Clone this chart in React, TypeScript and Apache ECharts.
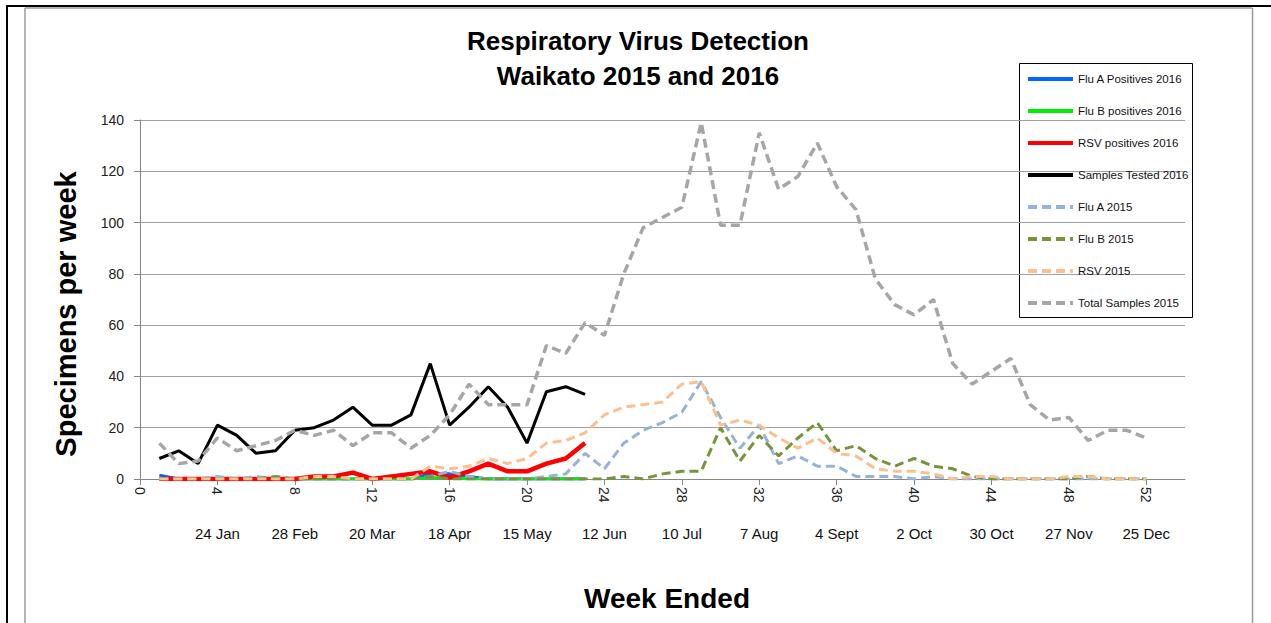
import React, { useEffect, useRef } from "react";
import * as echarts from "echarts";

const weeks2016 = [1, 2, 3, 4, 5, 6, 7, 8, 9, 10, 11, 12, 13, 14, 15, 16, 17, 18, 19, 20, 21, 22, 23];
const weeks2015 = [
  1, 2, 3, 4, 5, 6, 7, 8, 9, 10, 11, 12, 13, 14, 15, 16, 17, 18, 19, 20, 21, 22, 23, 24, 25, 26,
  27, 28, 29, 30, 31, 32, 33, 34, 35, 36, 37, 38, 39, 40, 41, 42, 43, 44, 45, 46, 47, 48, 49, 50, 51, 52,
];

const fluA2016 = [1.5, 0, 0, 0, 0, 0, 0, 0, 0, 0, 0, 0, 0, 0, 2, 2, 1, 0, 0, 0, 0, 0, 0];
const fluB2016 = [0, 0, 0, 0, 0, 0, 0, 0, 0, 0, 0, 0, 0, 0, 0.5, 0.5, 0, 0, 0, 0, 0, 0, 0];
const rsv2016 = [0, 0, 0, 0, 0, 0, 0, 0, 1, 1, 2.5, 0, 1, 2, 3, 0.5, 3, 6, 3, 3, 6, 8, 14];
const samples2016 = [8, 11, 6, 21, 17, 10, 11, 19, 20, 23, 28, 21, 21, 25, 45, 21, 28, 36, 28, 14, 34, 36, 33];

const fluA2015 = [
  0, 0, 0, 1, 0, 1, 0, 0, 0, 0, 0, 0, 0, 0, 1, 3, 1, 0, 0, 0, 1, 2, 10, 4, 14, 19,
  22, 26, 38, 24, 12, 21, 6, 9, 5, 5, 1, 1, 1, 0, 1, 0, 0, 0, 0, 0, 0, 0, 0, 0, 0, 0,
];
const fluB2015 = [
  0, 0, 0, 0, 0, 0, 1, 0, 0, 0, 0, 0, 0, 0, 1, 0, 0, 0, 0, 0, 0, 0, 0, 0, 1, 0,
  2, 3, 3, 20, 7, 17, 9, 16, 22, 11, 13, 8, 5, 8, 5, 4, 1, 0, 0, 0, 0, 0, 1, 0, 0, 0,
];
const rsv2015 = [
  0, 0, 0, 0, 0, 0, 0, 0, 1, 1, 0, 0, 0, 0, 5, 4, 5, 8, 6, 8, 14, 15, 18, 25, 28, 29,
  30, 37, 38, 21, 23, 21, 16, 12, 16, 10, 9, 4, 3, 3, 2, 0, 1, 1, 0, 0, 0, 1, 1, 0, 0, 0,
];
const total2015 = [
  14, 6, 7, 16, 11, 13, 15, 19, 17, 19, 13, 18, 18, 12, 17, 25, 37, 29, 29, 29, 52, 49, 61, 56, 80, 98,
  102, 106, 139, 99, 99, 135, 113, 118, 131, 114, 105, 78, 68, 64, 70, 45, 37, 42, 47, 29, 23, 24, 15, 19, 19, 16,
];

const weekTicks = [0, 4, 8, 12, 16, 20, 24, 28, 32, 36, 40, 44, 48, 52];
const dateTicks = [4, 8, 12, 16, 20, 24, 28, 32, 36, 40, 44, 48, 52];
const dateLabels = ["24 Jan", "28 Feb", "20 Mar", "18 Apr", "15 May", "12 Jun", "10 Jul", "7 Aug", "4 Sept", "2 Oct", "30 Oct", "27 Nov", "25 Dec"];

const FONT = "'Liberation Sans', Arial, sans-serif";

function pairs(xs: number[], ys: number[]) {
  return xs.map((x, i) => [x, ys[i]]);
}

export default function App() {
  const ref = useRef<HTMLDivElement>(null);
  useEffect(() => {
    if (!ref.current) return;
    const chart = echarts.init(ref.current, undefined, { renderer: "svg" });
    const dash = [9, 5];
    const mk = (name: string, xs: number[], ys: number[], color: string, width: number, dashed: boolean) => ({
      name,
      type: "line",
      data: pairs(xs, ys),
      symbol: "none",
      color,
      lineStyle: { color, width, type: dashed ? dash : "solid" },
      emphasis: { disabled: true },
    });
    chart.setOption({
      animation: false,
      textStyle: { fontFamily: FONT },
      grid: { left: 140, right: 86, top: 120, bottom: 144, containLabel: false },
      xAxis: [
        {
          type: "value",
          min: 0,
          max: 54,
          interval: 4,
          axisLine: { show: true, lineStyle: { color: "#868686", width: 1 } },
          axisTick: { show: true, length: 6, lineStyle: { color: "#868686" }, customValues: weekTicks },
          axisLabel: {
            customValues: weekTicks,
            rotate: -90,
            margin: 8,
            fontSize: 14,
            color: "#222",
            fontFamily: FONT,
          },
          splitLine: { show: false },
        },
        {
          type: "value",
          min: 0,
          max: 54,
          interval: 4,
          position: "bottom",
          axisLine: { show: false },
          axisTick: { show: false },
          splitLine: { show: false },
          axisLabel: {
            customValues: dateTicks,
            margin: 47,
            fontSize: 15,
            color: "#111",
            fontFamily: FONT,
            formatter: (v: number) => {
              const i = dateTicks.indexOf(v);
              return i >= 0 ? dateLabels[i] : "";
            },
          },
        },
      ],
      yAxis: {
        type: "value",
        min: 0,
        max: 140,
        interval: 20,
        axisLine: { show: true, lineStyle: { color: "#868686", width: 1 } },
        axisTick: { show: true, length: 6, lineStyle: { color: "#868686" } },
        axisLabel: { margin: 16, fontSize: 14, color: "#222", fontFamily: FONT },
        splitLine: { show: true, lineStyle: { color: "#A0A0A0", width: 1 } },
      },
      legend: {
        orient: "vertical",
        left: 1026,
        top: 73,
        padding: 0,
        itemWidth: 45,
        itemHeight: 12,
        itemGap: 20,
        itemStyle: { opacity: 0 },
        lineStyle: { width: 4 },
        textStyle: { fontSize: 11.5, color: "#111", fontFamily: FONT },
        data: [
          "Flu A Positives 2016",
          "Flu B positives 2016",
          "RSV positives 2016",
          "Samples Tested 2016",
          "Flu A 2015",
          "Flu B 2015",
          "RSV 2015",
          "Total Samples 2015",
        ],
        selectedMode: false,
      },
      graphic: [
        { type: "rect", shape: { x: 6, y: 5, width: 2, height: 618 }, style: { fill: "#000" }, silent: true },
        { type: "rect", shape: { x: 6, y: 5, width: 1265, height: 2 }, style: { fill: "#000" }, silent: true },
        { type: "line", shape: { x1: 25, y1: 8, x2: 1252, y2: 8 }, style: { stroke: "#9a9a9a", lineWidth: 1.5 }, silent: true },
        { type: "line", shape: { x1: 25, y1: 8, x2: 25, y2: 623 }, style: { stroke: "#9a9a9a", lineWidth: 1.5 }, silent: true },
        { type: "line", shape: { x1: 1252.5, y1: 8, x2: 1252.5, y2: 623 }, style: { stroke: "#9a9a9a", lineWidth: 1.5 }, silent: true },
        {
          type: "rect",
          shape: { x: 1019.5, y: 63.5, width: 173, height: 254 },
          style: { fill: "none", stroke: "#000", lineWidth: 1 },
          silent: true,
        },
        {
          type: "text",
          x: 638,
          y: 41,
          style: {
            text: "Respiratory Virus Detection",
            font: `bold 26px ${FONT}`,
            fill: "#000",
            textAlign: "center",
            textVerticalAlign: "middle",
          },
          silent: true,
        },
        {
          type: "text",
          x: 638,
          y: 76,
          style: {
            text: "Waikato 2015 and 2016",
            font: `bold 26px ${FONT}`,
            fill: "#000",
            textAlign: "center",
            textVerticalAlign: "middle",
          },
          silent: true,
        },
        {
          type: "text",
          x: 66,
          y: 314,
          rotation: Math.PI / 2,
          style: {
            text: "Specimens per week",
            font: `bold 29px ${FONT}`,
            fill: "#000",
            textAlign: "center",
            textVerticalAlign: "middle",
          },
          silent: true,
        },
        {
          type: "text",
          x: 667,
          y: 598,
          style: {
            text: "Week Ended",
            font: `bold 28px ${FONT}`,
            fill: "#000",
            textAlign: "center",
            textVerticalAlign: "middle",
          },
          silent: true,
        },
      ],
      series: [
        mk("Flu A Positives 2016", weeks2016, fluA2016, "#0066FF", 3, false),
        mk("Flu B positives 2016", weeks2016, fluB2016, "#00EE00", 3, false),
        mk("RSV positives 2016", weeks2016, rsv2016, "#FF0000", 4.5, false),
        mk("Samples Tested 2016", weeks2016, samples2016, "#000000", 3, false),
        mk("Flu A 2015", weeks2015, fluA2015, "#95B3D7", 3, true),
        mk("Flu B 2015", weeks2015, fluB2015, "#77933C", 3, true),
        mk("RSV 2015", weeks2015, rsv2015, "#FAC090", 3, true),
        mk("Total Samples 2015", weeks2015, total2015, "#A6A6A6", 3.5, true),
      ],
    });
    return () => chart.dispose();
  }, []);
  return (
    <div
      ref={ref}
      style={{ position: "absolute", left: 0, top: 0, width: 1271, height: 623, background: "#fff" }}
    />
  );
}
